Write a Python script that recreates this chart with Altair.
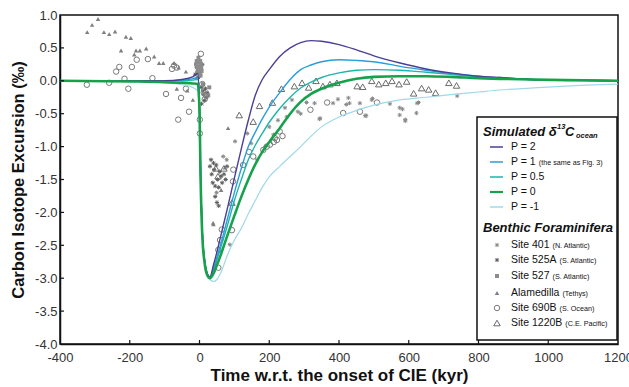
import altair as alt
import pandas as pd

FONT = "Liberation Sans"

# ---------------- simulated curves ----------------
X_MODEL = [-400, -200, -100, -50, -20, -5, 0, 3, 8, 15, 22, 30, 40, 50, 60, 80, 100, 120, 140, 160,
           180, 200, 230, 260, 290, 320, 350, 400, 450, 500, 575, 650, 720, 800, 860, 950, 1050, 1200]
P_2 = [0, 0, 0, 0.02, 0.06, 0.11, -0.4, -1.4, -2.3, -2.75, -2.93, -2.98, -2.8, -2.6, -2.38, -1.94, -1.48, -1.03, -0.6, -0.22,
       0.02, 0.17, 0.37, 0.5, 0.58, 0.61, 0.6, 0.55, 0.47, 0.38, 0.27, 0.18, 0.12, 0.07, 0.05, 0.02, 0.01, 0.0]
P_1 = [0, 0, 0, 0.01, 0.03, 0.05, -0.4, -1.4, -2.3, -2.75, -2.93, -2.99, -2.85, -2.68, -2.5, -2.1, -1.7, -1.33, -1.0, -0.78,
       -0.58, -0.4, -0.18, 0.02, 0.17, 0.24, 0.29, 0.32, 0.31, 0.29, 0.22, 0.16, 0.11, 0.07, 0.05, 0.02, 0.01, 0.0]
P_05 = [0, 0, 0, 0.0, 0.01, 0.02, -0.4, -1.4, -2.3, -2.76, -2.94, -3.0, -2.88, -2.72, -2.55, -2.2, -1.82, -1.5, -1.2, -0.98,
        -0.8, -0.63, -0.42, -0.25, -0.11, -0.02, 0.05, 0.12, 0.16, 0.17, 0.16, 0.13, 0.1, 0.06, 0.04, 0.02, 0.01, 0.0]
P_0 = [0, -0.01, -0.02, -0.03, -0.04, -0.05, -0.45, -1.45, -2.35, -2.78, -2.95, -3.0, -2.93, -2.8, -2.66, -2.35, -2.05, -1.76, -1.5, -1.27,
       -1.08, -0.93, -0.72, -0.5, -0.32, -0.2, -0.12, -0.03, 0.03, 0.06, 0.07, 0.07, 0.06, 0.04, 0.03, 0.02, 0.01, 0.0]
P_M1 = [0, -0.01, -0.03, -0.06, -0.1, -0.15, -0.5, -1.4, -2.25, -2.72, -2.92, -3.02, -3.05, -3.02, -2.93, -2.65, -2.42, -2.24, -2.02, -1.82,
        -1.62, -1.46, -1.3, -1.15, -1.0, -0.84, -0.7, -0.55, -0.45, -0.37, -0.29, -0.25, -0.21, -0.17, -0.14, -0.11, -0.08, -0.05]

SERIES_LABELS = ["P = 2", "P = 1", "P = 0.5", "P = 0", "P = -1"]
SERIES_SUB = ["", "(the same as Fig. 3)", "", "", ""]
SERIES_COLORS = ["#4a3f95", "#2b9ed9", "#1db5a8", "#16a24c", "#9fd9ea"]
SERIES_WIDTHS = [1.4, 1.4, 1.4, 2.6, 1.2]
SERIES_Y = [P_2, P_1, P_05, P_0, P_M1]

# ---------------- benthic foraminifera data ----------------
S401_X = [165, 189, 212, 245, 265, 282, 307, 330, 344, 383, 397, 421, 430, 460, 478, 496, 546, 574, 582, 590, 622, 628, 739,
          102, 137, 148, 78, 68, 87, 49, 250, 290, 200, 225, 346, 427, 475, 494, 574, 590, 624]
S401_Y = [-1.2, -1.0, -0.82, -0.41, -0.29, -0.47, -0.33, -0.34, -0.58, -0.34, -0.28, -0.36, -0.34, -0.34, -0.53, -0.27, -0.35, -0.52, -0.43, -0.61, -0.49, -0.33, -0.23,
          -0.92, -0.8, -0.95, -1.2, -1.15, -2.49, -1.7, -0.55, -0.5, -0.7, -0.6, -0.57, -0.26, -0.53, -0.29, -0.41, -0.59, -0.34]

S525_X = [30, 35, 38, 42, 45, 48, 52, 55, 58, 62, 65, 70, 75, 79, 45, 50, 55, 40, 33,
          -12, -8, -5, -3, 2, 5, 8, 10, 14, 20, 17, 22, 6]
S525_Y = [-1.3, -1.42, -1.55, -1.35, -1.6, -1.28, -1.5, -1.62, -1.38, -1.45, -1.55, -1.42, -1.5, -1.3, -1.76, -1.85, -1.9, -1.25, -1.2,
          0.1, 0.2, 0.15, 0.05, 0.12, -0.1, 0.25, -0.15, -0.3, -0.25, -0.12, -0.18, -0.35]

S527_X = [-10, -8, -6, -4, -2, 0, 2, 4, 6, -7, 3, -3, 0, 5, 10, 12, 25, 28]
S527_Y = [0.25, 0.3, 0.22, 0.18, 0.28, 0.2, 0.3, 0.25, 0.15, 0.12, 0.08, 0.35, 0.1, 0.2, -0.05, -0.2, -0.22, -0.1]

ALAM_X = [-322, -308, -291, -274, -259, -242, -211, -197, -225, -182, -187, -171, -153, -130, -116, -104, -73, -60,
          -19, -35, -8, 39, 40, 73, 82, 62, -39, -65]
ALAM_Y = [0.74, 0.85, 0.94, 0.74, 0.71, 0.75, 0.67, 0.65, 0.46, 0.46, 0.40, 0.46, 0.49, 0.37, 0.27, 0.27, 0.27, 0.2,
          -0.29, -0.15, 0.05, -2.16, -2.18, -1.32, -0.72, -1.66, 0.14, -0.12]

S690_X = [-323, -259, -239, -230, -215, -204, -194, -180, -148, -135, -96, -79, -73, -65, -53, -61, -30, -39,
          4, 1, 1, 12, 15, 18, 8,
          96, 97, 125, 142, 154, 183, 202, 216, 230, 238, 193, 213, 222, 318, 366, 412, 460, 509,
          54, 59, 64, 93, 54]
S690_Y = [-0.06, -0.03, 0.14, 0.21, 0.03, -0.12, 0.21, 0.32, 0.33, 0.04, -0.2, 0.18, 0.23, 0.2, -0.26, -0.59, -0.47, -0.12,
          0.41, -0.59, -0.8, -0.18, -0.28, -0.22, -0.05,
          -1.53, -1.35, -1.28, -1.08, -1.15, -1.05, -0.97, -0.87, -0.77, -0.84, -1.0, -0.93, -0.9, -0.44, -0.33, -0.49, -0.47, -0.33,
          -2.57, -2.42, -2.26, -2.27, -2.84]

S1220_X = [47, 53, 70, 93, 114, 154, 172, 209, 235, 272, 294, 313, 334, 354, 374, 394, 452, 468, 494, 514, 534, 552,
           572, 594, 614, 637, 657, 677, 715, 737]
S1220_Y = [-1.33, -1.45, -1.33, -1.85, -0.52, -0.62, -0.38, -0.33, -0.12, -0.08, -0.03, -0.1, 0.0, -0.08, -0.05, -0.03, -0.08, -0.09, 0.0, -0.05, -0.03, 0.0,
           -0.05, -0.01, -0.19, -0.11, -0.13, -0.18, -0.03, -0.07]

ASTERISK = "M-1,0L1,0M0,-1L0,1M-0.7,-0.7L0.7,0.7M-0.7,0.7L0.7,-0.7"

SITES = [
    # label, sub, xs, ys, shape, filled, color, size
    ("Site 401", "(N. Atlantic)", S401_X, S401_Y, ASTERISK, False, "#8a8a8a", 18),
    ("Site 525A", "(S. Atlantic)", S525_X, S525_Y, ASTERISK, False, "#5e5e5e", 18),
    ("Site 527", "(S. Atlantic)", S527_X, S527_Y, "square", True, "#8c8c8c", 16),
    ("Alamedilla", "(Tethys)", ALAM_X, ALAM_Y, "triangle-up", True, "#7f7f7f", 20),
    ("Site 690B", "(S. Ocean)", S690_X, S690_Y, "circle", False, "#7a7a7a", 30),
    ("Site 1220B", "(C.E. Pacific)", S1220_X, S1220_Y, "triangle-up", False, "#6a6a6a", 42),
]

X_TICKS = [-400, -200, 0, 200, 400, 600, 800, 1000, 1200]
Y_TICKS = [-4.0, -3.5, -3.0, -2.5, -2.0, -1.5, -1.0, -0.5, 0.0, 0.5, 1.0]

W, H = 558, 329

xscale = alt.Scale(domain=[-400, 1200], nice=False, zero=False)
yscale = alt.Scale(domain=[-4, 1], nice=False, zero=False)

xaxis = alt.Axis(values=X_TICKS, tickCount=40, grid=False, ticks=False, domainColor="#111", domainWidth=1.5,
                 labelFontSize=13, labelColor="#333", labelFont=FONT, labelPadding=7,
                 labelOverlap=False, labelFlush=False,
                 labelExpr="datum.value < 0 ? '-' + format(-datum.value, 'd') : format(datum.value, 'd')",
                 title="Time w.r.t. the onset of CIE (kyr)", titleFont=FONT, titleFontSize=17,
                 titleFontWeight="bold", titleColor="#111", titlePadding=3)
yaxis = alt.Axis(values=Y_TICKS, tickCount=40, grid=False, ticks=False, domainColor="#111", domainWidth=1.5,
                 labelFontSize=13, labelColor="#333", labelFont=FONT, labelPadding=3,
                 labelOverlap=False, labelFlush=False,
                 labelExpr="datum.value < 0 ? '-' + format(-datum.value, '.1f') : format(datum.value, '.1f')",
                 title="Carbon Isotope Excursion (‰)", titleFont=FONT, titleFontSize=16.5,
                 titleFontWeight="bold", titleColor="#111", titlePadding=8)


def X():
    return alt.X("x:Q", scale=xscale, axis=xaxis)


def Y():
    return alt.Y("y:Q", scale=yscale, axis=yaxis)


layers = []

# scatter layers
for label, sub, xs, ys, shape, filled, color, size in SITES:
    df = pd.DataFrame({"x": xs, "y": ys})
    kw = dict(shape=shape, size=size, filled=filled, opacity=1)
    if filled:
        kw.update(color=color)
    else:
        kw.update(stroke=color, strokeWidth=1)
    layers.append(alt.Chart(df).mark_point(**kw).encode(x=X(), y=Y()))

# model curves (light first, green on top)
order = [4, 2, 1, 0, 3]
for i in order:
    df = pd.DataFrame({"x": X_MODEL, "y": SERIES_Y[i]})
    layers.append(alt.Chart(df).mark_line(interpolate="monotone", color=SERIES_COLORS[i],
                                          strokeWidth=SERIES_WIDTHS[i]).encode(x=X(), y=Y()))

# inward ticks
xt = pd.DataFrame({"x": X_TICKS[1:-1]})
layers.append(alt.Chart(xt).mark_rule(color="#111", strokeWidth=1.2).encode(
    x=X(), y=alt.value(H), y2=alt.value(H - 4)))
yt = pd.DataFrame({"y": Y_TICKS[1:-1]})
layers.append(alt.Chart(yt).mark_rule(color="#111", strokeWidth=1.2).encode(
    y=Y(), x=alt.value(0), x2=alt.value(4)))

# ---------------- manual legend ----------------
one = pd.DataFrame({"a": [0]})
CW = {"S": 667, "i": 222, "t": 278, "e": 556, " ": 278, "A": 667, "l": 222, "a": 556, "m": 833,
      "d": 556, "B": 667, "P": 667, "=": 584, "-": 333, ".": 278}


def width(txt, size):
    return sum(CW.get(c, 556) for c in txt) * size / 1000.0


def text(txt, x, y, size, weight="normal", style="normal", color="#111"):
    return alt.Chart(one).mark_text(text=txt, align="left", baseline="middle", font=FONT,
                                    fontSize=size, fontWeight=weight, fontStyle=style,
                                    color=color).encode(x=alt.value(x), y=alt.value(y))


LX0, LX1, LY0, LY1 = 417, 557, 102, 325
layers.append(alt.Chart(one).mark_rect(fill="white", stroke="#111", strokeWidth=1.5).encode(
    x=alt.value(LX0), x2=alt.value(LX1), y=alt.value(LY0), y2=alt.value(LY1)))

layers.append(text("Simulated δ", 423, 117, 13, "bold", "italic"))
layers.append(text("13", 497, 112, 7.5, "bold", "italic"))
layers.append(text("C", 505, 117, 13, "bold", "italic"))
layers.append(text("ocean", 516, 121, 7.5, "bold", "italic"))

MAIN = 10.5
SUB = 7.2
for k, (lab, sub, col, sw) in enumerate(zip(SERIES_LABELS, SERIES_SUB, SERIES_COLORS, SERIES_WIDTHS)):
    yy = 132 + 15 * k
    layers.append(alt.Chart(one).mark_rule(color=col, strokeWidth=max(sw, 1.5) if k != 3 else 2.2).encode(
        x=alt.value(430), x2=alt.value(443), y=alt.value(yy)))
    layers.append(text(lab, 451, yy, MAIN))
    if sub:
        layers.append(text(sub, 451 + width(lab, MAIN) + 3, yy + 0.5, SUB))

layers.append(text("Benthic Foraminifera", 423, 213, 13, "bold", "italic"))
ROW_Y = [230, 245, 261, 278, 293, 308]
for k, (label, sub, xs, ys, shape, filled, color, size) in enumerate(SITES):
    yy = ROW_Y[k]
    kw = dict(shape=shape, size=size, filled=filled, opacity=1)
    if filled:
        kw.update(color=color)
    else:
        kw.update(stroke=color, strokeWidth=1)
    layers.append(alt.Chart(one).mark_point(**kw).encode(x=alt.value(437), y=alt.value(yy)))
    layers.append(text(label, 451, yy, MAIN))
    layers.append(text(sub, 451 + width(label, MAIN) + 3, yy + 0.5, SUB))

chart = alt.layer(*layers).properties(
    width=W, height=H, autosize="none",
    padding={"left": 60, "top": 15, "right": 11, "bottom": 43},
    background="white",
).configure_view(stroke="#111", strokeWidth=1.5)

chart.save("out.html", embed_options={"renderer": "svg", "actions": False})
